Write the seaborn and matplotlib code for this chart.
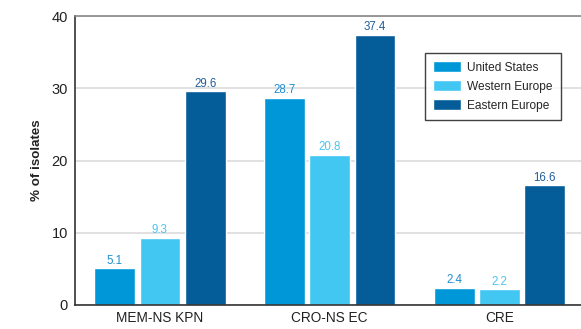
import matplotlib
matplotlib.use("Agg")
import matplotlib.pyplot as plt
import seaborn as sns
import pandas as pd
from matplotlib.ticker import FixedLocator

categories = ["MEM-NS KPN", "CRO-NS EC", "CRE"]
regions = ["United States", "Western Europe", "Eastern Europe"]
us_vals = [5.1, 28.7, 2.4]
we_vals = [9.3, 20.8, 2.2]
ee_vals = [29.6, 37.4, 16.6]
colors = ["#0097D9", "#41C7F2", "#045C98"]
label_colors = ["#1E8FD0", "#4CC3EE", "#1F5E9A"]

rows = []
for reg, vals in zip(regions, [us_vals, we_vals, ee_vals]):
    for c, v in zip(categories, vals):
        rows.append({"cat": c, "region": reg, "value": v})
df = pd.DataFrame(rows)

sns.set_style("white")
plt.rcParams['font.family'] = ['Liberation Sans Narrow', 'Liberation Sans', 'DejaVu Sans']

fig = plt.figure(figsize=(5.81, 3.29), dpi=100)
ax = fig.add_axes([75/581, 24/329, 1 - 75/581, 289/329])

sns.barplot(data=df, x="cat", y="value", hue="region", order=categories,
            hue_order=regions, palette=colors, width=0.8, gap=0.1,
            saturation=1, ax=ax, legend=True)

for cont, lc in zip(ax.containers, label_colors):
    ax.bar_label(cont, fmt="%.1f", padding=1, color=lc, fontsize=8.3)

ax.set_ylim(0, 40)
ax.set_xlim(-0.5, 2.48)
ax.set_yticks([0, 10, 20, 30, 40])
ax.yaxis.grid(True, color="#dcdcdc", linewidth=1.2)
ax.set_axisbelow(True)
ax.tick_params(axis="y", length=0, labelsize=10.5, pad=5, colors="#222222")
ax.tick_params(axis="x", which="major", length=0, labelsize=9.8, pad=4, colors="#222222")
ax.xaxis.set_minor_locator(FixedLocator([0.5, 1.5]))
ax.tick_params(axis="x", which="minor", length=4, direction="in", color="#333333", width=1)
ax.set_xlabel("")
ax.set_ylabel("% of isolates", fontsize=9.6, fontweight="bold", labelpad=6, color="#222222")

ax.spines["right"].set_visible(False)
ax.spines["top"].set_color("#888888")
ax.spines["top"].set_linewidth(1.2)
ax.spines["left"].set_color("#333333")
ax.spines["bottom"].set_color("#333333")
ax.spines["left"].set_linewidth(1.2)
ax.spines["bottom"].set_linewidth(1.2)

leg = ax.legend(loc="upper left", bbox_to_anchor=((425-75)/506, (329-53-24)/289),
                frameon=True, fancybox=False, edgecolor="#111111", fontsize=8.6,
                handlelength=2.3, handleheight=1.0, borderpad=0.7, labelspacing=0.55,
                handletextpad=0.5, borderaxespad=0)
leg.get_frame().set_linewidth(1.0)

fig.savefig("out.png", dpi=100)
